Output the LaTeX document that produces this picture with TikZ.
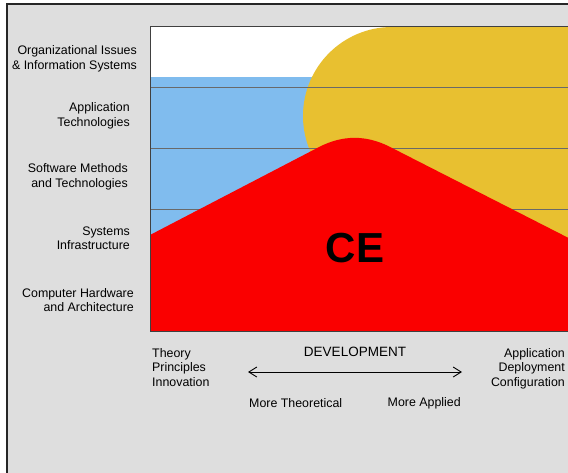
\documentclass[tikz,border=0pt]{standalone}
\usepackage{fontspec}
\setmainfont{Liberation Sans}
\usetikzlibrary{arrows.meta}
\definecolor{panelgray}{RGB}{222,222,222}
\definecolor{layerblue}{RGB}{128,188,238}
\definecolor{ceyellow}{RGB}{232,192,48}
\definecolor{cered}{RGB}{250,0,0}
\definecolor{gridgray}{RGB}{105,105,105}
\begin{document}
\begin{tikzpicture}[x=1pt,y=-1pt,
    layer/.style={font=\fontsize{12.4}{14.5}\selectfont, align=right, anchor=east, inner sep=0pt},
    axis/.style={font=\fontsize{12.4}{14.5}\selectfont, inner sep=0pt},
    devarrow/.style={{Straight Barb[length=8pt,width=10pt]}-{Straight Barb[length=8pt,width=10pt]}, line width=0.9pt}]
    \useasboundingbox (0,0) rectangle (568,472);
    \clip (0,0) rectangle (568,472);
    % panel
    \fill[white] (0,0) rectangle (568,472);
    \filldraw[fill=panelgray, draw=black!85, line width=2pt] (7,4) rectangle (620,520);
    % layers of the chart
    \fill[white] (150,26) rectangle (600,77);
    \fill[layerblue] (150,77) rectangle (600,331);
    \fill[ceyellow] (600,27) -- (392,27) arc[start angle=-90, end angle=-250, radius=89] -- (600,320) -- cycle;
    \foreach \y in {87,148,209}
        \draw[gridgray, line width=0.9pt] (150,\y) -- (600,\y);
    \fill[cered] (150,331) -- (150,235) -- (318.9,147.1)
        .. controls (342.6,134.8) and (366.3,134.8) .. (390,146.9)
        -- (600,254) -- (600,331) -- cycle;
    \draw[black!75, line width=0.8pt] (150,26) rectangle (600,331);
    \node[font=\fontsize{42}{42}\selectfont\bfseries, inner sep=0pt] (ce) at (355,248) {CE};
    % layer labels
    \node[layer] (org) at (137,59) {Organizational Issues\\\& Information Systems};
    \node[layer] (apptech) at (130,116) {Application\\Technologies};
    \node[layer] (swmeth) at (128,177) {Software Methods\\and Technologies};
    \node[layer] (sysinf) at (130,238) {Systems\\Infrastructure};
    \node[layer] (hwarch) at (134,300) {Computer Hardware\\and Architecture};
    % development axis
    \node[axis, anchor=north west, align=left] (theory) at (152,348) {Theory\\Principles\\Innovation};
    \node[axis, anchor=north east, align=right] (application) at (565,348) {Application\\Deployment\\Configuration};
    \node[font=\fontsize{13.5}{16}\selectfont, inner sep=0pt] (dev) at (355,352) {DEVELOPMENT};
    \coordinate (devL) at (248,372);
    \coordinate (devR) at (462,372);
    \draw[devarrow] (devL) -- (devR);
    \node[axis, anchor=west] (theoretical) at (249,403) {More Theoretical};
    \node[axis, anchor=east] (applied) at (461,403) {More Applied};
\end{tikzpicture}
\end{document}
